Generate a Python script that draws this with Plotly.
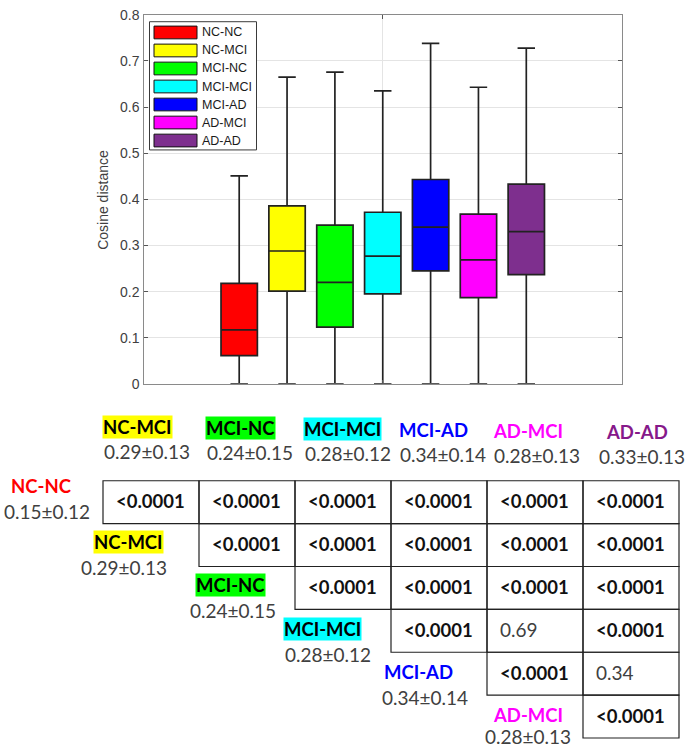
import plotly.graph_objects as go

# ---------------- data ----------------
groups = ["NC-NC", "NC-MCI", "MCI-NC", "MCI-MCI", "MCI-AD", "AD-MCI", "AD-AD"]
colors = ["#FF0000", "#FFFF00", "#00FF00", "#00FFFF", "#0000FF", "#FF00FF", "#7E2F8E"]
lower_whisker = [0.0, 0.0, 0.0, 0.0, 0.0, 0.0, 0.0]
q1 = [0.061, 0.201, 0.123, 0.195, 0.245, 0.187, 0.237]
median = [0.117, 0.288, 0.220, 0.277, 0.340, 0.269, 0.330]
q3 = [0.218, 0.386, 0.344, 0.372, 0.443, 0.368, 0.433]
upper_whisker = [0.451, 0.665, 0.676, 0.635, 0.738, 0.643, 0.728]

means = [0.15, 0.29, 0.24, 0.28, 0.34, 0.28, 0.33]
sds = [0.12, 0.13, 0.15, 0.12, 0.14, 0.13, 0.13]

# p-values: row i (groups[i]) vs column j (groups[j+1]), upper triangle
p_values = [
    ["<0.0001", "<0.0001", "<0.0001", "<0.0001", "<0.0001", "<0.0001"],
    [None, "<0.0001", "<0.0001", "<0.0001", "<0.0001", "<0.0001"],
    [None, None, "<0.0001", "<0.0001", "<0.0001", "<0.0001"],
    [None, None, None, "<0.0001", "0.69", "<0.0001"],
    [None, None, None, None, "<0.0001", "0.34"],
    [None, None, None, None, None, "<0.0001"],
]
y_ticks = [0, 0.1, 0.2, 0.3, 0.4, 0.5, 0.6, 0.7, 0.8]
y_title = "Cosine distance"

# ---------------- layout helpers ----------------
W, H = 685, 755


def px(x):
    return x / W


def py(y):
    return 1 - y / H


fig = go.Figure()
positions = list(range(1, len(groups) + 1))
for i, g in enumerate(groups):
    fig.add_trace(go.Box(
        x=[positions[i]], q1=[q1[i]], median=[median[i]], q3=[q3[i]],
        lowerfence=[lower_whisker[i]], upperfence=[upper_whisker[i]],
        name=g, fillcolor=colors[i], line=dict(color="#222222", width=1.7),
        width=0.76, whiskerwidth=0.48, boxpoints=False, showlegend=False,
    ))

axis_line = "#8a8a8a"
fig.update_layout(
    width=W, height=H, margin=dict(l=0, r=0, t=0, b=0),
    paper_bgcolor="white", plot_bgcolor="white",
    xaxis=dict(domain=[px(143.5), px(622)], range=[-1, 9], tickvals=[4], ticktext=[""],
               showgrid=True, gridcolor="#e4e4e4", gridwidth=1, zeroline=False,
               showline=True, linecolor=axis_line, linewidth=1.3, mirror="ticks",
               ticks="inside", ticklen=4, tickcolor="#555"),
    yaxis=dict(domain=[py(384), py(7)], range=[0, 0.80001], tickvals=y_ticks,
               ticktext=[f"{v:g}" for v in y_ticks], ticklabeloverflow="allow",
               showgrid=True, gridcolor="#e4e4e4", gridwidth=1, zeroline=False,
               showline=True, linecolor=axis_line, linewidth=1.3, mirror="ticks",
               ticks="inside", ticklen=4, tickcolor="#555",
               tickfont=dict(family="Liberation Sans, Arial", size=14, color="#404040")),
    font=dict(family="Liberation Sans, Arial"),
)

shapes = []
annotations = []

# y-axis title
annotations.append(dict(x=px(103), y=py(196), xref="paper", yref="paper", text=y_title,
                        textangle=-90, showarrow=False, xanchor="center", yanchor="middle",
                        font=dict(family="Liberation Sans, Arial", size=14, color="#404040")))

# custom MATLAB-style legend
shapes.append(dict(type="rect", xref="paper", yref="paper", x0=px(149.5), x1=px(256.5),
                   y0=py(145), y1=py(14), line=dict(color="#3a3a3a", width=1),
                   fillcolor="white", layer="above"))
for i, g in enumerate(groups):
    yc = 25 + 18.4 * i
    shapes.append(dict(type="rect", xref="paper", yref="paper", x0=px(154), x1=px(197),
                       y0=py(yc + 6.5), y1=py(yc - 6.5), line=dict(color="#111", width=1),
                       fillcolor=colors[i], layer="above"))
    annotations.append(dict(x=px(200), y=py(yc), xref="paper", yref="paper", text=g,
                            showarrow=False, xanchor="left", yanchor="middle",
                            font=dict(family="Liberation Sans, Arial", size=12.5, color="#1a1a1a")))

# ---------------- p-value table ----------------
tfont = "Lato, Calibri, sans-serif"
col_w, row_h = 96, 43.8
x0_tab, y0_tab = 103, 483
ncol = 6

label_fg = ["#FF0000", "#000000", "#000000", "#000000", "#0000FF", "#FF00FF", "#86198A"]
label_bg = [None, colors[1], colors[2], colors[3], None, None, None]


def label_ann(idx, x, y, xanchor="left"):
    d = dict(x=px(x), y=py(y), xref="paper", yref="paper", text=f"<b>{groups[idx]}</b>",
             showarrow=False, xanchor=xanchor, yanchor="middle", borderpad=0,
             font=dict(family=tfont, size=18.5, color=label_fg[idx]))
    if label_bg[idx]:
        d["bgcolor"] = label_bg[idx]
    return d


def value_ann(idx, x, y, xanchor="left"):
    return dict(x=px(x), y=py(y), xref="paper", yref="paper",
                text=f"{means[idx]:.2f}±{sds[idx]:.2f}", showarrow=False,
                xanchor=xanchor, yanchor="middle",
                font=dict(family=tfont, size=19, color="#404040"))


# cells
for i, row in enumerate(p_values):
    for j, p in enumerate(row):
        if p is None:
            continue
        cx0 = x0_tab + col_w * j
        cy0 = y0_tab + row_h * i
        shapes.append(dict(type="rect", xref="paper", yref="paper", x0=px(cx0), x1=px(cx0 + col_w),
                           y0=py(cy0 + row_h), y1=py(cy0), line=dict(color="#222", width=1.2)))
        bold = p.startswith("<")
        annotations.append(dict(x=px(cx0 + 11), y=py(cy0 + row_h / 2 - 1), xref="paper", yref="paper",
                                text=f"<b>{p}</b>" if bold else p, showarrow=False,
                                xanchor="left", yanchor="middle",
                                font=dict(family=tfont, size=18.5 if bold else 19,
                                          color="#111" if bold else "#404040")))

# column headers (groups 1..6)
hdr_label_dx = [-1, 6, 8, 7, 5, 22]
hdr_value_dx = [-1, 6, 8, 7, 5, 14]
for j in range(ncol):
    cx0 = x0_tab + col_w * j
    annotations.append(label_ann(j + 1, cx0 + hdr_label_dx[j], 428 + j))
    annotations.append(value_ann(j + 1, cx0 + hdr_value_dx[j], 453.5 + j))

# row labels (groups 0..5)
row_label_dx = [-93, -106, -100, -108, -104, -91]
row_value_dx = [-101, -120, -107, -108, -107, -100]
for i in range(len(p_values)):
    cx0 = x0_tab + col_w * i
    ly = 488 if i == 0 else 502 + 44 * i
    annotations.append(label_ann(i, cx0 + row_label_dx[i], ly))
    annotations.append(value_ann(i, cx0 + row_value_dx[i], min(ly + 26, 744)))

fig.update_layout(shapes=shapes, annotations=annotations)
fig.write_html("out.html", config={"displayModeBar": False},
               post_script="document.body.style.margin='0';document.body.style.overflow='hidden';")
